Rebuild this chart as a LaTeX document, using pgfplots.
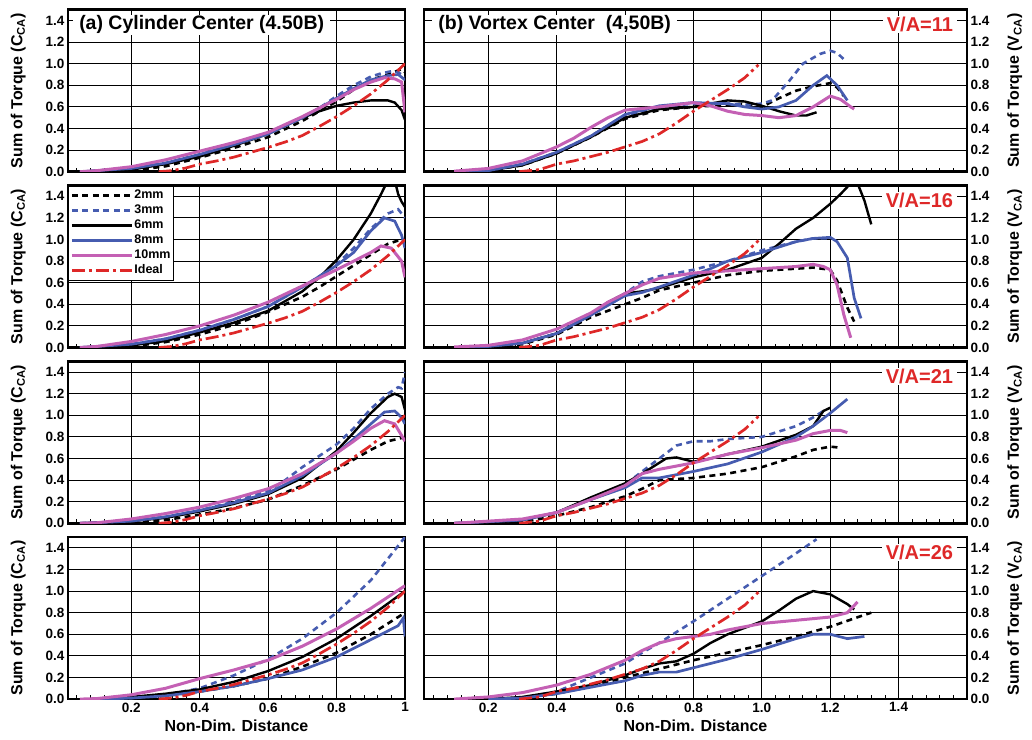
\documentclass[border=0pt]{standalone}
\usepackage{fontspec}
\setmainfont{Liberation Sans}
\usepackage{pgfplots}
\usepackage{pgfplotstable}
\pgfplotsset{compat=1.18}
\definecolor{cblue}{RGB}{70,92,176}
\definecolor{cmag}{RGB}{196,96,180}
\definecolor{cred}{RGB}{222,40,40}

\pgfplotstableread{
x y
0.28 0
0.32 0.01
0.36 0.035
0.40 0.07
0.45 0.10
0.50 0.135
0.55 0.18
0.60 0.225
0.65 0.275
0.70 0.335
0.75 0.42
0.80 0.51
0.85 0.61
0.90 0.72
0.95 0.85
1.00 1.00
}\ideal

\pgfplotstableread{
x y
0.29 0
0.35 0.02
0.40 0.07
0.45 0.10
0.50 0.14
0.55 0.18
0.60 0.23
0.65 0.28
0.70 0.35
0.75 0.45
0.80 0.56
0.85 0.66
0.90 0.76
0.95 0.87
0.99 0.99
}\idealR

\pgfplotsset{
 s2/.style={black, line width=2.6pt, dash pattern=on 6pt off 4.5pt},
 s3/.style={cblue, line width=2.6pt, dash pattern=on 6pt off 4.5pt},
 s6/.style={black, line width=2.4pt},
 s8/.style={cblue, line width=2.7pt},
 s10/.style={cmag, line width=3pt},
 sI/.style={cred, line width=2.7pt, dash pattern=on 13pt off 4pt on 3pt off 4pt},
 panel/.style={scale only axis, height=162pt, ymin=0, ymax=1.5,
   axis line style={line width=2.6pt}, grid=major,
   major grid style={black, line width=0.9pt},
   ytick={0,0.2,0.4,0.6,0.8,1.0,1.2,1.4},
   yticklabels={0.0,0.2,0.4,0.6,0.8,1.0,1.2,1.4},
   tick align=inside, major tick length=0pt, minor tick length=4pt,
   minor tick style={black, line width=0.8pt}, xtick pos=bottom,
   tick label style={font=\bfseries\fontsize{13.5}{15}\selectfont},
   anchor=south west, no markers},
 L/.style={panel, width=337pt, xmin=0.015, xmax=1,
   xtick={0.2,0.4,0.6,0.8,1}, xticklabels={0.2,0.4,0.6,0.8,1},
   minor xtick={0.04,0.08,0.12,0.16,0.24,0.28,0.32,0.36,0.44,0.48,0.52,0.56,0.64,0.68,0.72,0.76,0.84,0.88,0.92,0.96},
   ytick pos=left, yticklabel pos=left,
   ylabel={Sum of Torque (C\textsubscript{CA})},
   every axis y label/.style={at={(axis description cs:-0.148,0.5)}, rotate=90, anchor=center,
     font=\bfseries\fontsize{16}{18}\selectfont}},
 R/.style={panel, width=543pt, xmin=0.012, xmax=1.6,
   xtick={0.2,0.4,0.6,0.8,1.0,1.2,1.4}, xticklabels={0.2,0.4,0.6,0.8,1.0,1.2,1.4},
   minor xtick={0.04,0.08,0.12,0.16,0.24,0.28,0.32,0.36,0.44,0.48,0.52,0.56,0.64,0.68,0.72,0.76,0.84,0.88,0.92,0.96,1.04,1.08,1.12,1.16,1.24,1.28,1.32,1.36,1.44,1.48,1.52,1.56},
   ytick pos=right, yticklabel pos=right,
   ylabel={Sum of Torque (V\textsubscript{CA})},
   every axis y label/.style={at={(axis description cs:1.088,0.5)}, rotate=90, anchor=center,
     font=\bfseries\fontsize{16}{18}\selectfont}},
 notx/.style={xticklabels={}},
 xl/.style={xlabel={Non-Dim. Distance},
   every axis x label/.style={at={(axis description cs:0.5,0)}, anchor=center, yshift=-27pt,
     font=\bfseries\fontsize{16}{18}\selectfont}},
}
\newcommand{\ttl}[1]{\node[fill=white, anchor=west, inner xsep=6pt, inner ysep=1pt, font=\bfseries\fontsize{19.5}{21}\selectfont] at (rel axis cs:0.015,0.906) {#1};}
\newcommand{\va}[1]{\node[fill=white, anchor=east, inner xsep=4pt, inner ysep=1pt, text=cred, font=\bfseries\fontsize{20}{22}\selectfont] at (rel axis cs:0.982,0.906) {#1};}

\begin{document}
\begin{tikzpicture}
\path[use as bounding box] (0,0) rectangle (1032pt,-739pt);

% ---------------- Row 1 ----------------
\begin{axis}[L, notx, at={(68pt,-171.7pt)}]
\addplot[s2] coordinates {(0.05,0) (0.15,0.003) (0.2,0.01) (0.3,0.05) (0.4,0.13) (0.5,0.22) (0.6,0.32) (0.7,0.47) (0.75,0.56) (0.8,0.65) (0.85,0.76) (0.9,0.85) (0.95,0.9) (0.99,0.95) (1.0,0.92)};
\addplot[s3] coordinates {(0.05,0) (0.2,0.03) (0.3,0.08) (0.4,0.16) (0.5,0.25) (0.6,0.35) (0.7,0.5) (0.75,0.59) (0.8,0.7) (0.85,0.8) (0.9,0.88) (0.93,0.91) (0.96,0.93) (0.98,0.92) (1.0,0.88)};
\addplot[s6] coordinates {(0.05,0) (0.2,0.02) (0.3,0.07) (0.4,0.14) (0.5,0.24) (0.6,0.35) (0.7,0.5) (0.75,0.56) (0.8,0.61) (0.85,0.64) (0.9,0.66) (0.95,0.66) (0.97,0.64) (0.99,0.57) (1.0,0.48)};
\addplot[s8] coordinates {(0.05,0) (0.2,0.03) (0.3,0.08) (0.4,0.16) (0.5,0.25) (0.6,0.35) (0.7,0.5) (0.8,0.68) (0.85,0.77) (0.9,0.85) (0.95,0.89) (0.98,0.9) (1.0,0.85)};
\addplot[s10] coordinates {(0.05,0) (0.1,0.01) (0.2,0.046) (0.3,0.11) (0.4,0.19) (0.5,0.27) (0.6,0.365) (0.7,0.51) (0.8,0.67) (0.85,0.76) (0.9,0.83) (0.94,0.87) (0.97,0.86) (0.99,0.83) (1.0,0.55)};
\addplot[sI] table[x=x,y=y] {\ideal};
\ttl{(a) Cylinder Center (4.50B)}
\end{axis}

\begin{axis}[R, notx, at={(424pt,-171.7pt)}]
\addplot[s2] coordinates {(0.1,0) (0.2,0.01) (0.3,0.06) (0.4,0.17) (0.5,0.32) (0.6,0.49) (0.7,0.57) (0.8,0.6) (0.9,0.62) (0.95,0.63) (1.0,0.6) (1.05,0.68) (1.1,0.75) (1.15,0.79) (1.2,0.82) (1.22,0.78) (1.24,0.7)};
\addplot[s3] coordinates {(0.1,0) (0.2,0.01) (0.3,0.07) (0.4,0.18) (0.5,0.33) (0.6,0.52) (0.7,0.6) (0.8,0.63) (0.9,0.63) (0.95,0.62) (1.0,0.63) (1.03,0.66) (1.08,0.84) (1.12,1.0) (1.17,1.09) (1.2,1.12) (1.22,1.1) (1.24,1.04)};
\addplot[s6] coordinates {(0.1,0) (0.2,0.01) (0.3,0.06) (0.4,0.17) (0.5,0.32) (0.6,0.5) (0.7,0.58) (0.8,0.6) (0.85,0.63) (0.9,0.66) (0.95,0.65) (1.0,0.61) (1.05,0.56) (1.1,0.52) (1.13,0.52) (1.16,0.55)};
\addplot[s8] coordinates {(0.1,0) (0.2,0.01) (0.3,0.07) (0.4,0.18) (0.5,0.33) (0.6,0.53) (0.7,0.61) (0.8,0.64) (0.9,0.63) (0.95,0.6) (1.0,0.58) (1.05,0.6) (1.1,0.66) (1.15,0.8) (1.19,0.89) (1.22,0.8) (1.25,0.66)};
\addplot[s10] coordinates {(0.1,0.005) (0.2,0.03) (0.3,0.1) (0.4,0.23) (0.45,0.31) (0.5,0.41) (0.55,0.5) (0.6,0.57) (0.7,0.6) (0.8,0.64) (0.85,0.61) (0.9,0.56) (0.95,0.53) (1.0,0.52) (1.05,0.5) (1.1,0.52) (1.15,0.6) (1.2,0.7) (1.23,0.67) (1.26,0.6) (1.27,0.58)};
\addplot[sI] table[x=x,y=y] {\idealR};
\ttl{(b) Vortex Center\ \ (4,50B)}
\va{V/A=11}
\end{axis}

% ---------------- Row 2 ----------------
\begin{axis}[L, notx, at={(68pt,-347.5pt)},
  legend style={at={(0,1)}, anchor=north west, draw=black, line width=0.8pt, fill=white,
    font=\bfseries\fontsize{12.5}{15}\selectfont, inner sep=2pt, row sep=0pt,
    nodes={inner sep=1pt, text height=10pt, text depth=3pt}},
  legend cell align=left,
  every axis plot/.append style={legend image code/.code={\draw[##1] (0pt,0pt) -- (60pt,0pt);}}]
\addplot[s2] coordinates {(0.05,0) (0.2,0.01) (0.3,0.05) (0.4,0.12) (0.5,0.21) (0.6,0.33) (0.65,0.4) (0.7,0.47) (0.75,0.56) (0.8,0.66) (0.85,0.76) (0.9,0.86) (0.95,0.96) (0.98,0.99) (1.0,0.98)};
\addplot[s3] coordinates {(0.05,0) (0.2,0.03) (0.3,0.08) (0.4,0.16) (0.5,0.26) (0.6,0.38) (0.7,0.56) (0.75,0.66) (0.8,0.77) (0.85,0.92) (0.9,1.1) (0.95,1.24) (0.98,1.28) (1.0,1.2)};
\addplot[s6] coordinates {(0.05,0) (0.2,0.02) (0.3,0.06) (0.4,0.14) (0.5,0.23) (0.6,0.34) (0.7,0.52) (0.75,0.65) (0.8,0.81) (0.85,1.0) (0.9,1.24) (0.93,1.42) (0.95,1.55) (0.97,1.55) (0.98,1.42) (0.99,1.35) (1.0,1.3)};
\addplot[s8] coordinates {(0.05,0) (0.2,0.03) (0.3,0.08) (0.4,0.16) (0.5,0.26) (0.6,0.38) (0.7,0.56) (0.75,0.66) (0.8,0.76) (0.85,0.88) (0.9,1.08) (0.94,1.2) (0.97,1.17) (0.99,1.04) (1.0,0.92)};
\addplot[s10] coordinates {(0.05,0) (0.1,0.01) (0.2,0.056) (0.3,0.12) (0.4,0.2) (0.5,0.3) (0.6,0.42) (0.7,0.57) (0.8,0.72) (0.85,0.8) (0.9,0.88) (0.93,0.94) (0.96,0.92) (0.99,0.8) (1.0,0.65)};
\addplot[sI] table[x=x,y=y] {\ideal};
\legend{2mm,3mm,6mm,8mm,10mm,Ideal}
\end{axis}

\begin{axis}[R, notx, at={(424pt,-347.5pt)}]
\addplot[s2] coordinates {(0.1,0) (0.2,0.005) (0.3,0.03) (0.4,0.12) (0.5,0.28) (0.6,0.4) (0.65,0.46) (0.7,0.53) (0.8,0.6) (0.9,0.67) (1.0,0.71) (1.1,0.73) (1.15,0.74) (1.2,0.72) (1.22,0.62) (1.25,0.37) (1.27,0.24)};
\addplot[s3] coordinates {(0.1,0) (0.2,0.01) (0.3,0.04) (0.4,0.13) (0.5,0.3) (0.6,0.5) (0.65,0.61) (0.7,0.66) (0.8,0.72) (0.9,0.8) (1.0,0.9) (1.1,0.98) (1.15,1.01) (1.2,1.01)};
\addplot[s6] coordinates {(0.1,0) (0.2,0.01) (0.3,0.04) (0.4,0.13) (0.5,0.3) (0.55,0.42) (0.6,0.5) (0.65,0.52) (0.7,0.55) (0.8,0.65) (0.9,0.72) (1.0,0.83) (1.05,0.96) (1.1,1.1) (1.15,1.2) (1.2,1.33) (1.23,1.42) (1.26,1.52) (1.28,1.52) (1.3,1.36) (1.32,1.14)};
\addplot[s8] coordinates {(0.1,0) (0.2,0.01) (0.3,0.04) (0.4,0.13) (0.5,0.3) (0.6,0.48) (0.65,0.51) (0.7,0.56) (0.8,0.67) (0.85,0.73) (0.9,0.8) (1.0,0.88) (1.1,0.98) (1.15,1.01) (1.2,1.02) (1.22,0.98) (1.25,0.83) (1.27,0.46) (1.29,0.27)};
\addplot[s10] coordinates {(0.1,0.005) (0.2,0.02) (0.3,0.07) (0.4,0.17) (0.5,0.32) (0.55,0.42) (0.6,0.5) (0.65,0.58) (0.7,0.64) (0.8,0.69) (0.9,0.71) (1.0,0.73) (1.1,0.75) (1.15,0.77) (1.18,0.75) (1.2,0.72) (1.22,0.58) (1.24,0.3) (1.26,0.09)};
\addplot[sI] table[x=x,y=y] {\idealR};
\va{V/A=16}
\end{axis}

% ---------------- Row 3 ----------------
\begin{axis}[L, notx, at={(68pt,-523.3pt)}]
\addplot[s2] coordinates {(0.05,0) (0.2,0.01) (0.3,0.03) (0.4,0.08) (0.5,0.14) (0.6,0.22) (0.7,0.35) (0.8,0.5) (0.9,0.68) (0.95,0.76) (0.99,0.79) (1.0,0.78)};
\addplot[s3] coordinates {(0.05,0) (0.2,0.02) (0.3,0.06) (0.4,0.12) (0.5,0.2) (0.6,0.3) (0.65,0.4) (0.7,0.52) (0.8,0.73) (0.85,0.88) (0.9,1.06) (0.95,1.2) (0.98,1.26) (0.99,1.25) (1.0,1.4)};
\addplot[s6] coordinates {(0.05,0) (0.2,0.02) (0.3,0.05) (0.4,0.11) (0.5,0.18) (0.6,0.27) (0.7,0.42) (0.8,0.67) (0.85,0.84) (0.9,1.02) (0.95,1.17) (0.97,1.2) (0.99,1.17) (1.0,1.05)};
\addplot[s8] coordinates {(0.05,0) (0.2,0.02) (0.3,0.06) (0.4,0.12) (0.5,0.19) (0.6,0.28) (0.7,0.44) (0.8,0.65) (0.85,0.78) (0.9,0.92) (0.94,1.03) (0.97,1.04) (0.99,0.98) (1.0,0.92)};
\addplot[s10] coordinates {(0.05,0) (0.1,0.005) (0.2,0.04) (0.3,0.09) (0.4,0.15) (0.5,0.23) (0.6,0.32) (0.7,0.46) (0.8,0.65) (0.85,0.76) (0.9,0.88) (0.94,0.95) (0.97,0.92) (1.0,0.76)};
\addplot[sI] table[x=x,y=y] {\ideal};
\end{axis}

\begin{axis}[R, notx, at={(424pt,-523.3pt)}]
\addplot[s2] coordinates {(0.1,0) (0.3,0.01) (0.4,0.07) (0.5,0.15) (0.6,0.25) (0.65,0.32) (0.7,0.4) (0.8,0.42) (0.9,0.46) (1.0,0.52) (1.1,0.62) (1.15,0.68) (1.2,0.71) (1.23,0.7)};
\addplot[s3] coordinates {(0.1,0) (0.3,0.03) (0.4,0.1) (0.5,0.23) (0.6,0.36) (0.65,0.48) (0.7,0.6) (0.75,0.72) (0.8,0.76) (0.85,0.76) (0.9,0.78) (1.0,0.8) (1.05,0.85) (1.1,0.9) (1.15,0.98) (1.18,1.04)};
\addplot[s6] coordinates {(0.1,0) (0.3,0.03) (0.4,0.1) (0.5,0.24) (0.6,0.37) (0.65,0.46) (0.7,0.56) (0.72,0.6) (0.75,0.61) (0.8,0.57) (0.85,0.6) (0.9,0.64) (1.0,0.71) (1.1,0.82) (1.15,0.9) (1.18,1.04) (1.2,1.07)};
\addplot[s8] coordinates {(0.1,0) (0.3,0.03) (0.4,0.1) (0.5,0.22) (0.6,0.33) (0.65,0.42) (0.7,0.42) (0.75,0.45) (0.8,0.48) (0.9,0.55) (1.0,0.66) (1.1,0.8) (1.15,0.9) (1.2,1.02) (1.25,1.15)};
\addplot[s10] coordinates {(0.1,0) (0.3,0.04) (0.4,0.1) (0.5,0.22) (0.6,0.35) (0.65,0.46) (0.7,0.5) (0.8,0.56) (0.9,0.64) (1.0,0.7) (1.1,0.77) (1.15,0.83) (1.2,0.86) (1.23,0.86) (1.25,0.84)};
\addplot[sI] table[x=x,y=y] {\idealR};
\va{V/A=21}
\end{axis}

% ---------------- Row 4 ----------------
\begin{axis}[L, xl, at={(68pt,-699.1pt)}]
\addplot[s2] coordinates {(0.1,0) (0.2,0.005) (0.3,0.03) (0.4,0.07) (0.5,0.12) (0.6,0.19) (0.7,0.3) (0.8,0.43) (0.9,0.6) (1.0,0.8)};
\addplot[s3] coordinates {(0.1,0) (0.2,0.01) (0.3,0.04) (0.4,0.1) (0.5,0.22) (0.6,0.37) (0.7,0.56) (0.8,0.8) (0.9,1.1) (1.0,1.5)};
\addplot[s6] coordinates {(0.1,0) (0.2,0.02) (0.3,0.05) (0.4,0.09) (0.5,0.16) (0.6,0.26) (0.7,0.39) (0.8,0.56) (0.9,0.77) (1.0,1.0)};
\addplot[s8] coordinates {(0.1,0) (0.2,0.01) (0.3,0.03) (0.4,0.07) (0.5,0.12) (0.6,0.19) (0.7,0.27) (0.8,0.39) (0.9,0.55) (0.98,0.68) (0.995,0.75) (1.0,0.58)};
\addplot[s10] coordinates {(0.05,0) (0.1,0.005) (0.2,0.04) (0.3,0.1) (0.4,0.19) (0.5,0.27) (0.6,0.36) (0.7,0.49) (0.8,0.65) (0.9,0.84) (1.0,1.05)};
\addplot[sI] table[x=x,y=y] {\ideal};
\end{axis}

\begin{axis}[R, xl, at={(424pt,-699.1pt)}]
\addplot[s2] coordinates {(0.2,0) (0.3,0.01) (0.4,0.05) (0.5,0.12) (0.6,0.2) (0.7,0.28) (0.8,0.36) (0.9,0.43) (1.0,0.5) (1.1,0.58) (1.2,0.67) (1.3,0.78) (1.32,0.8)};
\addplot[s3] coordinates {(0.2,0) (0.3,0.01) (0.4,0.07) (0.5,0.2) (0.6,0.33) (0.65,0.43) (0.7,0.52) (0.8,0.72) (0.9,0.93) (1.0,1.14) (1.1,1.35) (1.16,1.48)};
\addplot[s6] coordinates {(0.2,0) (0.3,0.02) (0.4,0.07) (0.5,0.13) (0.6,0.22) (0.65,0.28) (0.7,0.33) (0.75,0.35) (0.8,0.42) (0.85,0.52) (0.9,0.6) (1.0,0.72) (1.05,0.82) (1.1,0.93) (1.15,1.0) (1.2,0.97) (1.25,0.88) (1.27,0.83)};
\addplot[s8] coordinates {(0.2,0) (0.3,0.01) (0.4,0.05) (0.5,0.11) (0.6,0.17) (0.65,0.22) (0.7,0.25) (0.75,0.25) (0.8,0.29) (0.9,0.37) (1.0,0.46) (1.1,0.56) (1.15,0.6) (1.2,0.6) (1.25,0.56) (1.3,0.58)};
\addplot[s10] coordinates {(0.1,0) (0.2,0.02) (0.3,0.06) (0.4,0.13) (0.5,0.23) (0.6,0.36) (0.65,0.45) (0.7,0.52) (0.75,0.56) (0.8,0.58) (0.85,0.6) (0.9,0.64) (1.0,0.7) (1.1,0.73) (1.2,0.76) (1.25,0.8) (1.28,0.9)};
\addplot[sI] table[x=x,y=y] {\idealR};
\va{V/A=26}
\end{axis}
\end{tikzpicture}
\end{document}
